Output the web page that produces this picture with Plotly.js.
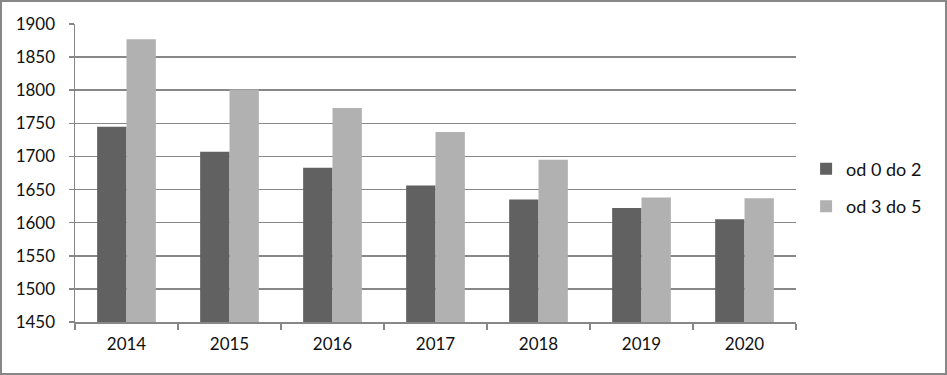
<!DOCTYPE html>
<html>
<head>
<meta charset="utf-8">
<script src="https://cdn.plot.ly/plotly-3.0.1.min.js"></script>
<style>
html,body{margin:0;padding:0;background:#fff;}
#wrap{position:absolute;left:0;top:0;width:947px;height:375px;box-sizing:border-box;border:2px solid #878787;background:#fff;}
#chart{width:943px;height:371px;}
</style>
</head>
<body>
<div id="wrap"><div id="chart"></div></div>
<script>
const years = ['2014','2015','2016','2017','2018','2019','2020'];
const series1Name = 'od 0 do 2';
const series1 = [1745, 1707, 1683, 1656, 1635, 1622, 1605];
const series2Name = 'od 3 do 5';
const series2 = [1877, 1801, 1773, 1737, 1695, 1638, 1637];
const yTicks = [1450,1500,1550,1600,1650,1700,1750,1800,1850,1900];

const traces = [
  {type:'bar', x:years, y:series1, name:series1Name, marker:{color:'#616161'}, legendgroup:'a'},
  {type:'bar', x:years, y:series2, name:series2Name, marker:{color:'#b1b1b1'}, legendgroup:'b'}
];
const layout = {
  width:943, height:371,
  margin:{l:73, r:149, t:22, b:51, pad:0},
  paper_bgcolor:'#fff', plot_bgcolor:'#fff',
  font:{family:'Lato, "Open Sans", sans-serif', size:17, color:'#111'},
  barmode:'group', bargap:0.43, bargroupgap:0,
  xaxis:{type:'category', tickson:'boundaries', ticks:'outside', ticklen:6, tickcolor:'#878787', tickwidth:1.5,
         showline:true, linecolor:'#878787', linewidth:1.5, showgrid:false, zeroline:false, ticklabelstandoff:6},
  yaxis:{range:[1450,1900], tickvals:yTicks, ticks:'outside', ticklen:5, tickcolor:'#878787', tickwidth:1.5,
         showline:true, linecolor:'#878787', linewidth:1.5, showgrid:true, gridcolor:'#878787', gridwidth:1.5,
         zeroline:false, ticklabelstandoff:10},
  showlegend:true,
  legend:{x:1.014, xanchor:'left', y:0.451, yanchor:'middle', traceorder:'grouped', tracegroupgap:11,
          font:{size:18, color:'#111'}, bgcolor:'rgba(0,0,0,0)'}
};
Plotly.newPlot('chart', traces, layout, {displayModeBar:false, staticPlot:true});
</script>
</body>
</html>
